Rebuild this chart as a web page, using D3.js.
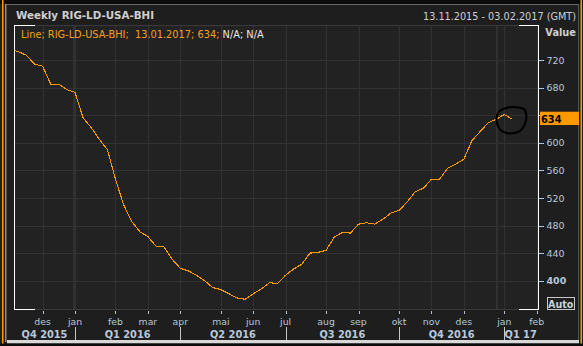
<!DOCTYPE html>
<html><head><meta charset="utf-8">
<script src="https://cdn.jsdelivr.net/npm/d3@7"></script>
<style>html,body{margin:0;padding:0;background:#1e1e1e;overflow:hidden}svg{display:block}text{font-family:"DejaVu Sans",sans-serif}</style>
</head><body><svg id="c" width="583" height="346"></svg>
<script>
// ---- data ----
const weeks = ["2015-11-06","2015-11-13","2015-11-20","2015-11-27","2015-12-04","2015-12-11","2015-12-18","2015-12-25",
"2016-01-01","2016-01-08","2016-01-15","2016-01-22","2016-01-29","2016-02-05","2016-02-12","2016-02-19","2016-02-26",
"2016-03-04","2016-03-11","2016-03-18","2016-03-25","2016-04-01","2016-04-08","2016-04-15","2016-04-22","2016-04-29",
"2016-05-06","2016-05-13","2016-05-20","2016-05-27","2016-06-03","2016-06-10","2016-06-17","2016-06-24",
"2016-07-01","2016-07-08","2016-07-15","2016-07-22","2016-07-29","2016-08-05","2016-08-12","2016-08-19","2016-08-26",
"2016-09-02","2016-09-09","2016-09-16","2016-09-23","2016-09-30","2016-10-07","2016-10-14","2016-10-21","2016-10-28",
"2016-11-04","2016-11-11","2016-11-18","2016-11-25","2016-12-02","2016-12-09","2016-12-16","2016-12-23","2016-12-30",
"2017-01-06","2017-01-13"];
const rigs = [736,732,727,714,711,685,685,677,673,636,622,605,590,547,510,486,471,464,450,449,431,418,414,408,400,390,387,381,375,373,
381,388,397,396,408,417,424,440,441,444,463,470,469,482,484,482,489,498,502,514,529,534,547,547,563,569,576,603,616,629,634,641,634];
const monthNames = ["jan","feb","mar","apr","mai","jun","jul","aug","sep","okt","nov","des"];
const quarterLabels = ["Q4 2015","Q1 2016","Q2 2016","Q3 2016","Q4 2016","Q1 17"];
const yTicks = [400,440,480,520,560,600,640,680,720];
const boldTicks = [400];
const title = "Weekly RIG-LD-USA-BHI";
const rangeText = "13.11.2015 - 03.02.2017 (GMT)";
const legendParts = ["Line; RIG-LD-USA-BHI;  13.01.2017; 634;", " N/A; N/A"];
const lastValue = 634;

// ---- layout ----
const L = 14, R = 539, T = 25, B = 310;
const svg = d3.select("#c");
const parse = d3.utcParse("%Y-%m-%d");
const data = weeks.map((d,i)=>({date:parse(d), v:rigs[i]}));

const x = d3.scaleUtc()
  .domain([new Date(Date.UTC(2015,10,9,6,50)), new Date(Date.UTC(2017,1,4,23,40))])
  .range([L, R]);
const y = d3.scaleLinear().domain([357.5, 770.75]).range([B, T]);

// frame
svg.append("rect").attr("width",583).attr("height",346).attr("fill","#1e1e1e");
svg.append("rect").attr("x",0).attr("y",0).attr("width",583).attr("height",4).attr("fill","#0c0c0c");
svg.append("rect").attr("x",5).attr("y",4).attr("width",573).attr("height",1).attr("fill","#6a6a6a");
svg.append("rect").attr("x",2).attr("y",0).attr("width",1.5).attr("height",346).attr("fill","#ff9900");
svg.append("rect").attr("x",5).attr("y",4).attr("width",1.5).attr("height",338).attr("fill","#8a8a8a");
svg.append("rect").attr("x",578).attr("y",4).attr("width",1).attr("height",338).attr("fill","#555");
svg.append("rect").attr("x",580.5).attr("y",0).attr("width",1.5).attr("height",346).attr("fill","#ff9900");
svg.append("rect").attr("x",7).attr("y",340).attr("width",572).attr("height",3.5).attr("fill","#d8d8d8");
svg.append("rect").attr("x",0).attr("y",343.5).attr("width",583).attr("height",3).attr("fill","#0c0c0c");

// header
svg.append("text").attr("x",16).attr("y",19.3).attr("font-size",10.3).attr("font-weight","bold")
  .attr("fill","#cfcfcf").text(title);
svg.append("text").attr("x",576).attr("y",20).attr("font-size",9.7).attr("text-anchor","end")
  .attr("fill","#cfcfcf").text(rangeText);
svg.append("text").attr("x",576).attr("y",36).attr("font-size",9.8).attr("font-weight","bold")
  .attr("text-anchor","end").attr("fill","#cfcfcf").text("Value");

// plot bg
svg.append("rect").attr("x",L).attr("y",T).attr("width",R-L).attr("height",B-T).attr("fill","#222222");

// month ticks (first Friday of each month)
const months = d3.utcMonth.range(new Date(Date.UTC(2015,10,1)), new Date(Date.UTC(2017,2,1)))
  .map(m => d3.utcFriday.ceil(m))
  .filter(d => x(d) >= L && x(d) <= R);
const grid = svg.append("g").attr("shape-rendering","crispEdges");
grid.selectAll(".vg").data(months).join("line")
  .attr("x1",d=>Math.round(x(d))+0.5).attr("x2",d=>Math.round(x(d))+0.5)
  .attr("y1",T).attr("y2",B).attr("stroke","#323232");
// year separators
const yearEnds = [new Date(Date.UTC(2015,11,31)), new Date(Date.UTC(2016,11,31))];
grid.selectAll(".yg").data(yearEnds).join("line")
  .attr("x1",d=>x(d)).attr("x2",d=>x(d)).attr("y1",T).attr("y2",B)
  .attr("stroke","#303030").attr("stroke-width",2);
grid.selectAll(".hg").data(yTicks).join("line")
  .attr("x1",L).attr("x2",R).attr("y1",d=>Math.round(y(d))+0.5).attr("y2",d=>Math.round(y(d))+0.5)
  .attr("stroke","#323232");

// plot border
grid.append("rect").attr("x",L+0.5).attr("y",T+0.5).attr("width",R-L-1).attr("height",B-T-1)
  .attr("fill","none").attr("stroke","#3a3a3a");
const wb = svg.append("g").attr("stroke","#ffffff").attr("shape-rendering","crispEdges");
wb.append("line").attr("x1",L+0.5).attr("x2",L+0.5).attr("y1",T).attr("y2",B);
wb.append("line").attr("x1",R-0.5).attr("x2",R-0.5).attr("y1",T).attr("y2",B);
[[L,L+21],[R-20,R]].forEach(([a,b])=>{
  wb.append("line").attr("x1",a).attr("x2",b).attr("y1",T+0.5).attr("y2",T+0.5);
  wb.append("line").attr("x1",a).attr("x2",b).attr("y1",B-0.5).attr("y2",B-0.5);
});

// clip + line
svg.append("clipPath").attr("id","clip").append("rect").attr("x",L+1).attr("y",T).attr("width",R-L-2).attr("height",B-T);
svg.append("path").datum(data).attr("clip-path","url(#clip)")
  .attr("fill","none").attr("stroke","#ff9900").attr("stroke-width",1.1)
  .attr("shape-rendering","crispEdges")
  .attr("d", d3.line().x(d=>x(d.date)).y(d=>y(d.v)));

// legend text
const lg = svg.append("text").attr("x",21).attr("y",37.5).attr("font-size",9.8);
lg.append("tspan").attr("fill","#f5a020").style("white-space","pre").text(legendParts[0]);
lg.append("tspan").attr("fill","#e8e8e8").style("white-space","pre").text(legendParts[1]);

// y axis (labels hidden behind the last-value marker are not drawn)
const ly = y(lastValue);
const ya = svg.append("g");
ya.selectAll("line").data(yTicks).join("line")
  .attr("x1",R).attr("x2",544).attr("y1",d=>Math.round(y(d))+0.5).attr("y2",d=>Math.round(y(d))+0.5)
  .attr("stroke","#b4c4d8").attr("shape-rendering","crispEdges");
ya.selectAll("text").data(yTicks.filter(d => Math.abs(y(d)-ly) > 12)).join("text")
  .attr("x",546.5).attr("y",d=>y(d)+3.6).attr("font-size",9.5)
  .attr("font-weight",d=>boldTicks.includes(d)?"bold":"normal")
  .attr("fill","#b8c8da").text(d=>d);

// last value marker
svg.append("rect").attr("x",540).attr("y",ly-7.6).attr("width",39).attr("height",13.3).attr("fill","#ff9900");
svg.append("text").attr("x",541).attr("y",ly+4).attr("font-size",9.8).attr("font-weight","bold")
  .attr("fill","#000").text(lastValue);

// Auto box
svg.append("rect").attr("x",547).attr("y",297.5).attr("width",27.5).attr("height",12).attr("fill","none")
  .attr("stroke","#c8c8c8").attr("shape-rendering","crispEdges");
svg.append("text").attr("x",548).attr("y",307.6).attr("font-size",9.6).attr("font-weight","bold")
  .attr("fill","#c8d2dc").text("Auto");

// x axis months
const xa = svg.append("g");
xa.selectAll("line").data(months).join("line")
  .attr("x1",d=>Math.round(x(d))+0.5).attr("x2",d=>Math.round(x(d))+0.5).attr("y1",311).attr("y2",314)
  .attr("stroke","#b4c4d8").attr("shape-rendering","crispEdges");
xa.selectAll("text").data(months).join("text")
  .attr("x",d=>x(d)).attr("y",325).attr("font-size",9.3).attr("text-anchor","middle")
  .attr("fill","#b8c8da").text(d=>monthNames[d.getUTCMonth()]);

// quarters
const qStarts = months.filter(d => d.getUTCMonth()%3===0);
const bounds = [L, ...qStarts.map(d=>x(d)), R];
svg.selectAll(".qs").data(qStarts).join("line")
  .attr("x1",d=>Math.round(x(d))+0.5).attr("x2",d=>Math.round(x(d))+0.5).attr("y1",327).attr("y2",340)
  .attr("stroke","#c8c8c8").attr("shape-rendering","crispEdges");
svg.selectAll(".ql").data(quarterLabels).join("text")
  .attr("x",(d,i)=>(bounds[i]+bounds[i+1])/2 + (i===quarterLabels.length-1?-1:0)).attr("y",337.5)
  .attr("font-size",9.8).attr("font-weight","bold").attr("text-anchor","middle")
  .attr("fill","#b8c8da").text(d=>d);

// hand-drawn annotation circle
svg.append("path").attr("fill","none").attr("stroke","#000").attr("stroke-width",2)
  .attr("d","M498,113 C503,106 516,106 524,109 C528,113 527,125 520,131 C512,135 503,134 499,128 C496,123 496,117 498,113 Z");
</script></body></html>
